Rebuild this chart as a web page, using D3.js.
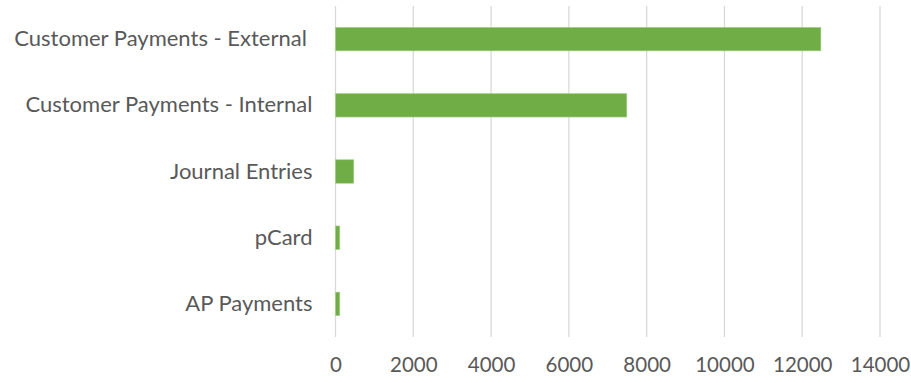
<!DOCTYPE html>
<html>
<head>
<meta charset="UTF-8">
<title>Bar chart</title>
<script src="https://d3js.org/d3.v7.min.js"></script>
<style>
  body { margin: 0; background: #fff; }
  text { font-family: Lato, "Open Sans", sans-serif; fill: #595959; }
</style>
</head>
<body>
<div id="chart"></div>
<script>
    // data
    var categories = ["Customer Payments - External ", "Customer Payments - Internal", "Journal Entries", "pCard", "AP Payments"];
    var values = [12480, 7490, 470, 110, 110];
    var ticks = [0, 2000, 4000, 6000, 8000, 10000, 12000, 14000];

    var width = 911, height = 383;
    var margin = {top: 6, right: 31, bottom: 46, left: 335.5};
    var w = width - margin.left - margin.right,
        h = height - margin.top - margin.bottom;

    var svg = d3.select("#chart").append("svg")
        .attr("width", width)
        .attr("height", height);

    var g = svg.append("g")
        .attr("transform", "translate(" + margin.left + "," + margin.top + ")");

    var x = d3.scaleLinear().domain([0, 14000]).range([0, w]);
    var y = d3.scaleBand().domain(categories).range([0, h]).paddingInner(0.645).paddingOuter(0.3225);

    // gridlines
    g.selectAll("line.grid")
        .data(ticks)
        .enter().append("line")
        .attr("class", "grid")
        .attr("x1", function(d) { return x(d); })
        .attr("x2", function(d) { return x(d); })
        .attr("y1", 0)
        .attr("y2", h)
        .attr("stroke", "#d9d9d9")
        .attr("stroke-width", 1.3);

    // bars
    g.selectAll("rect.bar")
        .data(values)
        .enter().append("rect")
        .attr("class", "bar")
        .attr("x", x(0))
        .attr("y", function(d, i) { return y(categories[i]); })
        .attr("width", function(d) { return x(d) - x(0); })
        .attr("height", y.bandwidth())
        .attr("fill", "#70ad47")
        .attr("stroke", "#a9d18e")
        .attr("stroke-width", 0.6);

    // x axis
    var xAxis = d3.axisBottom(x).tickValues(ticks).tickFormat(d3.format("d")).tickSize(0).tickPadding(20);
    var gx = g.append("g")
        .attr("transform", "translate(0," + h + ")")
        .call(xAxis);
    gx.select(".domain").remove();
    gx.selectAll("text")
        .style("font-size", "20.5px")
        .attr("fill", "#595959");

    // y axis
    var yAxis = d3.axisLeft(y).tickSize(0).tickPadding(23);
    var gy = g.append("g").call(yAxis);
    gy.select(".domain").remove();
    gy.selectAll("text")
        .style("font-size", "22px")
        .style("white-space", "pre")
        .attr("fill", "#595959");
</script>
</body>
</html>
